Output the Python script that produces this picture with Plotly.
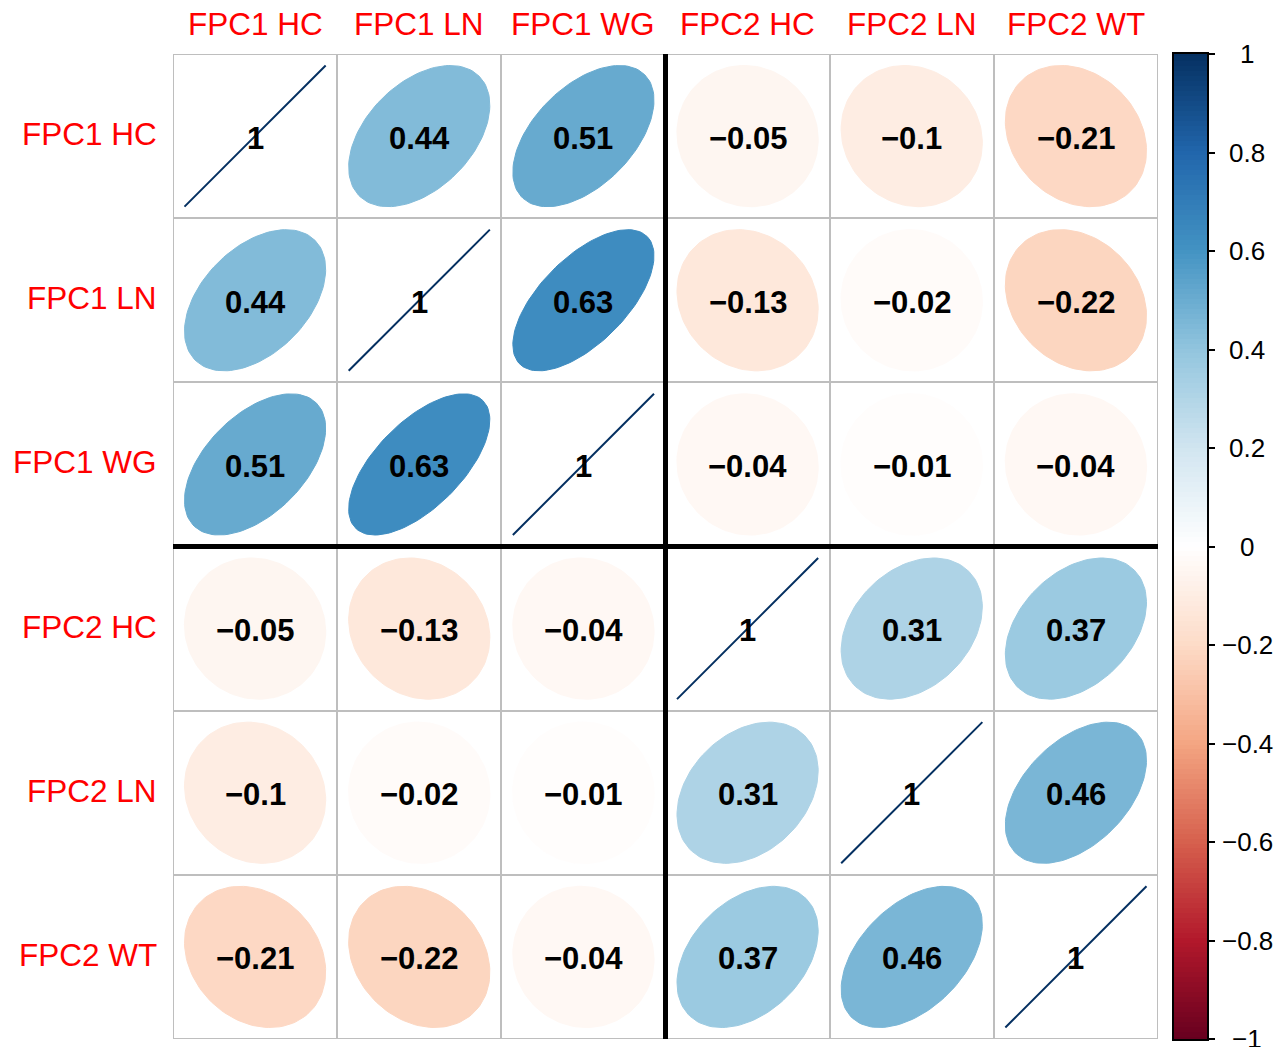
import numpy as np
import plotly.graph_objects as go
from plotly.colors import sample_colorscale

# ---- data ----
row_labels = ["FPC1 HC", "FPC1 LN", "FPC1 WG", "FPC2 HC", "FPC2 LN", "FPC2 WT"]
col_labels = ["FPC1 HC", "FPC1 LN", "FPC1 WG", "FPC2 HC", "FPC2 LN", "FPC2 WT"]
corr = [
    [1.00, 0.44, 0.51, -0.05, -0.10, -0.21],
    [0.44, 1.00, 0.63, -0.13, -0.02, -0.22],
    [0.51, 0.63, 1.00, -0.04, -0.01, -0.04],
    [-0.05, -0.13, -0.04, 1.00, 0.31, 0.37],
    [-0.10, -0.02, -0.01, 0.31, 1.00, 0.46],
    [-0.21, -0.22, -0.04, 0.37, 0.46, 1.00],
]
cbar_ticks = [1, 0.8, 0.6, 0.4, 0.2, 0, -0.2, -0.4, -0.6, -0.8, -1]
n_group1 = 3  # number of FPC1 variables (block separator)

# ---- styling ----
W, H = 1287, 1047
pal = ["#67001F", "#B2182B", "#D6604D", "#F4A582", "#FDDBC7", "#FFFFFF",
       "#D1E5F0", "#92C5DE", "#4393C3", "#2166AC", "#053061"]
cscale = [[i / (len(pal) - 1), c] for i, c in enumerate(pal)]
FONT = "Liberation Sans, Arial, Helvetica, sans-serif"

def col_of(r):
    return sample_colorscale(cscale, [(r + 1) / 2], colortype="rgb")[0]

def fmt(v):
    s = f"{v:.2f}".rstrip("0").rstrip(".")
    return s.replace("-", "\u2212")

n = len(row_labels)
fig = go.Figure()

k = np.linspace(0, 2 * np.pi, 120)
scale = 0.86
for i in range(n):
    for j in range(n):
        r = corr[i][j]
        cx, cy = j + 0.5, n - i - 0.5
        a = np.arccos(np.clip(r, -1, 1))
        ex = cx + scale * np.cos(k + a / 2) / 2
        ey = cy + scale * np.cos(k - a / 2) / 2
        c = col_of(r)
        if abs(r) >= 0.999:
            fig.add_trace(go.Scatter(x=ex, y=ey, mode="lines",
                                     line=dict(color=c, width=2),
                                     hoverinfo="skip", showlegend=False,
                                     xaxis="x", yaxis="y"))
        else:
            fig.add_trace(go.Scatter(x=ex, y=ey, mode="lines", fill="toself",
                                     fillcolor=c, line=dict(color=c, width=1),
                                     hoverinfo="skip", showlegend=False,
                                     xaxis="x", yaxis="y"))

# colorbar as heatmap
zc = np.linspace(-1, 1, 200)
fig.add_trace(go.Heatmap(z=zc.reshape(-1, 1), y=zc, x=[0], colorscale=cscale,
                         zmin=-1, zmax=1, showscale=False, hoverinfo="skip",
                         xaxis="x2", yaxis="y2"))

y0 = 1 - 1039 / H
y1 = 1 - 54 / H
fig.update_layout(
    width=W, height=H,
    margin=dict(l=0, r=0, t=0, b=0),
    paper_bgcolor="white", plot_bgcolor="white",
    xaxis=dict(domain=[173 / W, 1158 / W], range=[0, n], showgrid=True,
               tickvals=list(range(n + 1)), gridcolor="#BEBEBE", gridwidth=2,
               showticklabels=False, zeroline=False, showline=False, ticks=""),
    yaxis=dict(domain=[y0, y1], range=[0, n], showgrid=True,
               tickvals=list(range(n + 1)), gridcolor="#BEBEBE", gridwidth=2,
               showticklabels=False, zeroline=False, showline=False, ticks=""),
    xaxis2=dict(domain=[1174 / W, 1207 / W], range=[-0.5, 0.5], anchor="y2",
                showgrid=False, zeroline=False, showticklabels=False,
                showline=True, linecolor="black", linewidth=1.5, mirror=True),
    yaxis2=dict(domain=[y0, y1], range=[-1, 1], anchor="x2", side="right",
                showgrid=False, zeroline=False, showticklabels=False,
                tickvals=cbar_ticks, ticks="outside", ticklen=6,
                tickcolor="black", tickwidth=1.5,
                showline=True, linecolor="black", linewidth=1.5, mirror=True),
)

# outer grid border (gray)
fig.add_shape(type="rect", xref="x", yref="y", x0=0, x1=n, y0=0, y1=n,
              line=dict(color="#BEBEBE", width=2), layer="below")

# block separators
fig.add_shape(type="line", xref="x", yref="y", x0=n_group1, x1=n_group1,
              y0=0, y1=n, line=dict(color="black", width=5))
fig.add_shape(type="line", xref="x", yref="y", x0=0, x1=n,
              y0=n - n_group1, y1=n - n_group1, line=dict(color="black", width=5))

# cell numbers
for i in range(n):
    for j in range(n):
        fig.add_annotation(x=j + 0.5, y=n - i - 0.5, xref="x", yref="y",
                           text="<b>" + fmt(corr[i][j]) + "</b>",
                           showarrow=False, xanchor="center", yanchor="middle",
                           yshift=-2,
                           font=dict(family=FONT, size=31, color="black"))

# labels
for j, lab in enumerate(col_labels):
    fig.add_annotation(x=j + 0.5, y=n, xref="x", yref="y", text=lab,
                       showarrow=False, yanchor="middle", yshift=30,
                       font=dict(family=FONT, size=31.5, color="red"))
for i, lab in enumerate(row_labels):
    fig.add_annotation(x=0, y=n - i - 0.5, xref="x", yref="y", text=lab,
                       showarrow=False, xanchor="right", xshift=-14, yshift=2,
                       font=dict(family=FONT, size=31.5, color="red"))
for v in cbar_ticks:
    fig.add_annotation(x=1247 / W, y=v, xref="paper", yref="y2",
                       text=fmt(v), showarrow=False, xanchor="center",
                       yanchor="middle",
                       font=dict(family=FONT, size=26, color="black"))

fig.write_html("out.html",
               config={"displayModeBar": False},
               post_script="document.body.style.margin='0';"
                           "document.body.style.padding='0';")
